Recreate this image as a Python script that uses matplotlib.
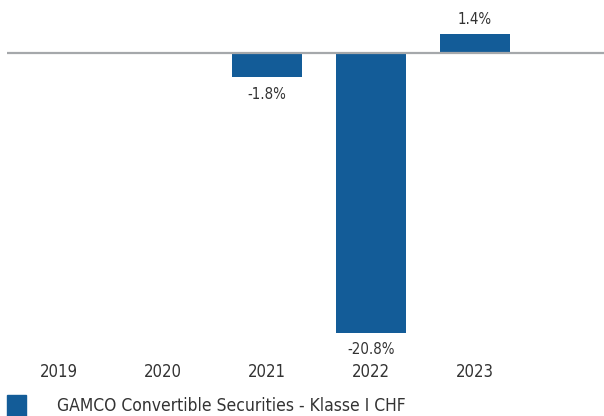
import matplotlib
matplotlib.use("Agg")
import matplotlib.pyplot as plt
import matplotlib.transforms as mtransforms

plt.rcParams['font.family'] = ['DejaVu Sans']
plt.rcParams['font.stretch'] = 'condensed'

years = ['2019', '2020', '2021', '2022', '2023']
returns = [None, None, -1.8, -20.8, 1.4]
series_name = 'GAMCO Convertible Securities - Klasse I CHF'

bar_color = '#135c98'
text_color = '#333333'

W, H = 604, 416
fig = plt.figure(figsize=(W / 100, H / 100), dpi=100)
ax = fig.add_axes([7 / W, (H - 340) / H, 1 - 7 / W, 340 / H])

px_per_unit = 280 / 20.8
ax.set_ylim(-(340 - 53) / px_per_unit, 53 / px_per_unit)
ax.set_xlim(-0.5, (W - 7) / 104 - 0.5)

xs = [i for i, v in enumerate(returns) if v is not None]
vals = [v for v in returns if v is not None]
ax.bar(xs, vals, width=70 / 104, color=bar_color, zorder=2)
ax.axhline(0, color='#a5a8ab', lw=1.6, zorder=3)

for x, v in zip(xs, vals):
    off = 15 if v >= 0 else -17
    ax.annotate(f'{v:.1f}%', (x, v), xytext=(0, off), textcoords='offset pixels',
                ha='center', va='center', fontsize=10.8, color=text_color)

trans = mtransforms.blended_transform_factory(ax.transData, fig.transFigure)
for i, y in enumerate(years):
    ax.text(i, 1 - 372 / H, y, transform=trans, ha='center', va='center',
            fontsize=12, color=text_color)

ax.axis('off')

fig.patches.append(plt.Rectangle((7 / W, 0), 19 / W, 21 / H, transform=fig.transFigure,
                                 color=bar_color, figure=fig))
fig.text(57 / W, 1 - 406 / H, series_name, ha='left', va='center',
         fontsize=12.5, color=text_color)

fig.savefig('out.png', dpi=100)
